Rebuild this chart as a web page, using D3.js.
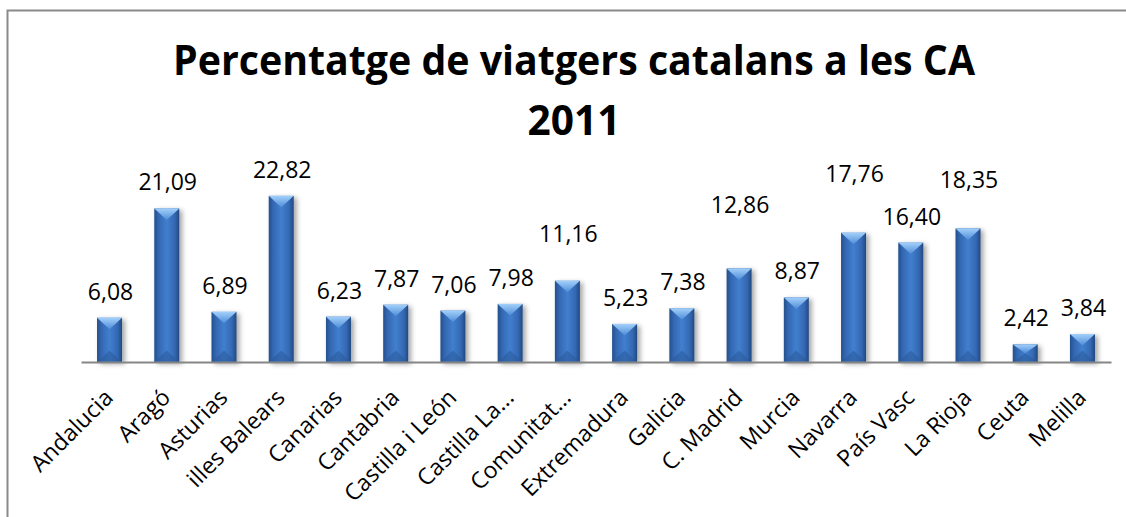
<!DOCTYPE html>
<html>
<head>
<meta charset="utf-8">
<script src="https://cdn.jsdelivr.net/npm/d3@7"></script>
<style>
  body { margin: 0; background: #fff; }
  svg text { font-family: "Open Sans", "DejaVu Sans", sans-serif; fill: #000; }
</style>
</head>
<body>
<div id="chart"></div>
<script>
"use strict";

const regions = ["Andalucia", "Aragó", "Asturias", "illes Balears", "Canarias", "Cantabria",
  "Castilla i León", "Castilla La...", "Comunitat...", "Extremadura", "Galicia", "C. Madrid",
  "Murcia", "Navarra", "País Vasc", "La Rioja", "Ceuta", "Melilla"];
const viatgers = [6.08, 21.09, 6.89, 22.82, 6.23, 7.87, 7.06, 7.98, 11.16, 5.23, 7.38, 12.86,
  8.87, 17.76, 16.40, 18.35, 2.42, 3.84];
const titleLines = ["Percentatge de viatgers catalans a les CA", "2011"];

// some labels were dragged up by hand in the original
const labelLift = { "Comunitat...": 21, "C. Madrid": 37, "Navarra": 33, "La Rioja": 22 };

const width = 1126, height = 517;
const axisY = 362, left = 81, right = 1111;

const svg = d3.select("#chart").append("svg")
  .attr("width", width).attr("height", height);

const defs = svg.append("defs");

const bodyGrad = defs.append("linearGradient").attr("id", "barBody")
  .attr("x1", "0").attr("x2", "1").attr("y1", "0").attr("y2", "0");
[["0%", "#24508c"], ["18%", "#3468b3"], ["50%", "#417fce"], ["82%", "#3468b3"], ["100%", "#22497f"]]
  .forEach(s => bodyGrad.append("stop").attr("offset", s[0]).attr("stop-color", s[1]));

const topGrad = defs.append("linearGradient").attr("id", "barTop")
  .attr("x1", "0").attr("x2", "0").attr("y1", "0").attr("y2", "1");
[["0%", "#a2d0fa"], ["100%", "#4f8cd8"]]
  .forEach(s => topGrad.append("stop").attr("offset", s[0]).attr("stop-color", s[1]));

const shadow = defs.append("filter").attr("id", "shadow")
  .attr("x", "-30%").attr("y", "-10%").attr("width", "170%").attr("height", "130%");
shadow.append("feDropShadow").attr("dx", 3).attr("dy", 2).attr("stdDeviation", 2.5)
  .attr("flood-color", "#000").attr("flood-opacity", 0.35);

// chart area border
svg.append("rect")
  .attr("x", 7.5).attr("y", 10.5)
  .attr("width", width + 20).attr("height", height + 20)
  .attr("fill", "none").attr("stroke", "#8a8a8a").attr("stroke-width", 2);

// title, squeezed to the width of the original (Calibri is narrow)
const titleSizes = [
  { y: 75, w: 802 },
  { y: 135, w: 93 }
];
titleLines.forEach((t, i) => {
  svg.append("text")
    .attr("x", 574).attr("y", titleSizes[i].y)
    .attr("text-anchor", "middle")
    .attr("textLength", titleSizes[i].w)
    .attr("lengthAdjust", "spacingAndGlyphs")
    .style("font-weight", "bold")
    .style("font-size", "42px")
    .text(t);
});

const x = d3.scaleBand().domain(regions).range([left, right]).paddingInner(0.563).paddingOuter(0.28);
const y = d3.scaleLinear().domain([0, 25]).range([axisY, axisY - 182]);

const data = regions.map((r, i) => ({ name: r, value: viatgers[i] }));

const bars = svg.append("g").selectAll("g.bar")
  .data(data).enter().append("g")
  .attr("class", "bar")
  .attr("filter", "url(#shadow)");

bars.append("rect")
  .attr("x", d => x(d.name))
  .attr("y", d => y(d.value))
  .attr("width", x.bandwidth())
  .attr("height", d => axisY - y(d.value))
  .attr("fill", "url(#barBody)");

// bevel on the top face
bars.append("path")
  .attr("d", d => {
    const x0 = x(d.name), w = x.bandwidth(), t = y(d.value);
    const b = Math.min(w / 2 - 1, (axisY - t) / 2);
    return "M" + x0 + "," + t + "L" + (x0 + w) + "," + t + "L" + (x0 + w / 2) + "," + (t + b) + "Z";
  })
  .attr("fill", "url(#barTop)");

// darker bevel at the foot
bars.append("path")
  .attr("d", d => {
    const x0 = x(d.name), w = x.bandwidth(), t = y(d.value);
    const b = Math.min(w / 2 - 1, (axisY - t) / 2);
    return "M" + x0 + "," + axisY + "L" + (x0 + w) + "," + axisY + "L" + (x0 + w / 2) + "," + (axisY - b) + "Z";
  })
  .attr("fill", "#2c5c9c").attr("opacity", 0.6);

const fmt = d3.formatLocale({ decimal: ",", thousands: ".", grouping: [3], currency: ["", "€"] }).format(".2f");

svg.append("g").selectAll("text.val")
  .data(data).enter().append("text")
  .attr("class", "val")
  .attr("x", d => x(d.name) + x.bandwidth() / 2 + 1)
  .attr("y", d => y(d.value) - 18 - (labelLift[d.name] || 0))
  .attr("text-anchor", "middle")
  .style("font-size", "23px")
  .text(d => fmt(d.value));

const xAxis = d3.axisBottom(x).tickSize(0).tickSizeOuter(0).tickPadding(0);
const gx = svg.append("g")
  .attr("transform", "translate(0," + axisY + ")")
  .call(xAxis);

gx.select(".domain").attr("stroke", "#868686").attr("stroke-width", 2);
gx.selectAll(".tick text")
  .attr("x", 0).attr("y", 0).attr("dy", null)
  .attr("text-anchor", "end")
  .attr("transform", "translate(5,37) rotate(-45)")
  .style("font-size", "23px")
  .style("font-family", "'Open Sans', sans-serif")
  .attr("fill", "#000");
</script>
</body>
</html>
